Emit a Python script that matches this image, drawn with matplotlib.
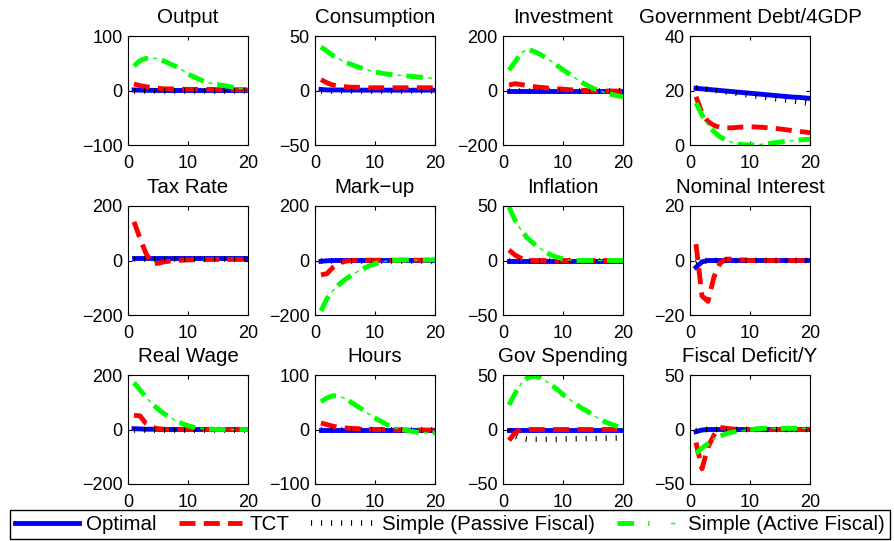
import numpy as np
import matplotlib
matplotlib.use('Agg')
import matplotlib.pyplot as plt
from matplotlib.lines import Line2D
from matplotlib.legend_handler import HandlerTuple

plt.rcParams['font.family'] = ['Liberation Sans', 'DejaVu Sans']
plt.rcParams['lines.scale_dashes'] = False

x = list(range(1, 21))
nan = float('nan')
zero = [0] * 20

titles = ['Output', 'Consumption', 'Investment', 'Government Debt/4GDP',
          'Tax Rate', 'Mark\u2212up', 'Inflation', 'Nominal Interest',
          'Real Wage', 'Hours', 'Gov Spending', 'Fiscal Deficit/Y']
ylims = [(-100, 100), (-50, 50), (-200, 200), (0, 40),
         (-200, 200), (-200, 200), (-50, 50), (-20, 20),
         (-200, 200), (-100, 100), (-50, 50), (-50, 50)]
labels = ['Optimal', 'TCT', 'Simple (Passive Fiscal)', 'Simple (Active Fiscal)']

# Optimal policy
optimal = [
    [1, 0.5, 0.3, 0.2, 0.1, 0, 0, 0, 0, 0, 0, 0, 0, 0, 0, 0, 0, 0, 0, 0],
    [1, 0.5, 0.5, 0.5, 0.4, 0.4, 0.4, 0.3, 0.3, 0.3, 0.3, 0.3, 0.3, 0.3, 0.3, 0.3, 0.3, 0.3, 0.3, 0.3],
    zero,
    [20.8, 20.6, 20.4, 20.2, 20.0, 19.8, 19.6, 19.4, 19.2, 19.0, 18.8, 18.6, 18.4, 18.2, 18.0, 17.8, 17.6, 17.5, 17.3, 17.1],
    [8] * 20,
    [-3, -1, 0, 0, 0, 0, 0, 0, 0, 0, 0, 0, 0, 0, 0, 0, 0, 0, 0, 0],
    zero,
    [-2.5, -0.5, 0, 0, 0, 0, 0, 0, 0, 0, 0, 0, 0, 0, 0, 0, 0, 0, 0, 0],
    [3, 2, 1, 1, 0.5, 0, 0, 0, 0, 0, 0, 0, 0, 0, 0, 0, 0, 0, 0, 0],
    zero,
    zero,
    [-2, -0.5, 0, 0, 0, 0, 0, 0, 0, 0, 0, 0, 0, 0, 0, 0, 0, 0, 0, 0],
]

# TCT
tct = [
    [12, 9, 7, 5, 4, 3, 3, 2.5, 2.5, 2, 2, 2, 2, 2, 1.5, 1.5, 1.5, 1.5, 1.5, 1.5],
    [10, 7, 5, 4, 3.5, 3, 3, 3, 2.5, 2.5, 2.5, 2.5, 2.5, 2.5, 2.5, 2.5, 2.5, 2.5, 2.5, 2.5],
    [20, 25, 22, 18, 15, 12, 10, 8, 6, 5, 3, 2, 1, 0, -1, -1, -2, -2, -2, -2],
    [17.7, 11.7, 8.6, 7.2, 6.4, 6.3, 6.3, 6.5, 6.6, 6.7, 6.6, 6.5, 6.3, 6.1, 5.9, 5.6, 5.3, 5.0, 4.8, 4.5],
    [142, 81, 26, -12, -10, -5, -2, 0, 1, 2, 3, 3, 4, 4, 4, 4, 4, 4, 4, 4],
    [-53, -48, -25, -10, -3, 0, 1, 1, 1, 1, 1, 1, 1, 1, 1, 1, 1, 1, 1, 1],
    [9.6, 5, 2, 0.5, 0, 0, 0, 0, 0, 0, 0, 0, 0, 0, 0, 0, 0, 0, 0, 0],
    [6, -13, -15, -6, -1, 0.5, 0.5, 0.3, 0.2, 0, 0, 0, 0, 0, 0, 0, 0, 0, 0, 0],
    [52, 50, 22, 8, 3, 1, 0, 0, 0, 0, 0, 0, 0, 0, 0, 0, 0, 0, 0, 0],
    [12, 9, 6, 4, 3, 2, 1.5, 1, 0.5, 0, 0, 0, -0.5, -0.5, -1, -1, -1, -1, -1, -1],
    [-10, -3, 0, 0, 0, 0, 0, 0, 0, 0, 0, 0, 0, 0, 0, 0, 0, 0, 0, 0],
    [-12, -36, -16, -5, 2, 1, 0.5, 0, 0, 0, 0, 0, 0, 0, 0, 0, 0, 0, 0, 0],
]

# Simple rule, passive fiscal
passive = [
    zero, zero, zero,
    [21, 20.7, 20.4, 20.1, 19.8, 19.5, 19.2, 18.9, 18.6, 18.3, 18.0, 17.7, 17.4, 17.1, 16.8, 16.5, 16.2, 15.9, 15.6, 15.3],
    [5] * 20,
    zero, zero,
    [-1, 0, 0, 0, 0, 0, 0, 0, 0, 0, 0, 0, 0, 0, 0, 0, 0, 0, 0, 0],
    zero, zero,
    [0, -6, -8, -9, -9, -9, -9, -9, -9, -8.8, -8.6, -8.5, -8.4, -8.3, -8.2, -8.1, -8, -7.9, -7.8, -7.7],
    [-1, 0, 0, 0, 0, 0, 0, 0, 0, 0, 0, 0, 0, 0, 0, 0, 0, 0, 0, 0],
]

# Simple rule, active fiscal
active = [
    [45, 55, 59, 60, 58, 54, 49, 44, 38, 30, 25, 20, 15, 13, 11, 9, 7, 5, 3, 2],
    [40, 36, 32, 29, 26, 24, 22, 20, 18.5, 17, 16, 15, 14.5, 14, 13.5, 13, 12.5, 12, 11.5, 11],
    [75, 105, 137, 150, 145, 135, 122, 108, 92, 76, 61, 46, 32, 19, 8, 0, -8, -14, -19, -23],
    [15.4, 11, 7.3, 4.9, 3, 1.8, 1, 0.4, 0.1, 0, 0.1, 0.3, 0.5, 0.8, 1.1, 1.4, 1.6, 1.8, 2.0, 2.1],
    [nan] * 20,
    [-185, -140, -110, -88, -70, -55, -42, -30, -20, -12, -6, -2, 0, 1, 2, 2, 2, 2, 2, 3],
    [49, 37, 28, 21, 16, 12, 8, 5, 3, 1.5, 0.5, 0, 0, 0, 0, 0, 0, 0, 0, 0],
    [nan] * 20,
    [172, 145, 118, 95, 75, 58, 44, 32, 22, 14, 8, 4, 2, 1, 0, 0, 0, 0, 0, 0],
    [51, 58, 62, 61, 57, 50, 43, 36, 28, 21, 15, 9, 4, 1, -1, -3, -5, -6, -6, -6],
    [22.5, 33, 42, 47, 49, 48, 45, 41, 37, 32, 28, 24, 20, 17, 13, 10, 7, 5, 3, 1],
    [-22, -17, -13, -8, -6, -4, -2.5, -1.5, -1, 0, 0.5, 1, 1, 1, 1, 1, 1, 1, 1, 1],
]

W, H = 895, 541
fig = plt.figure(figsize=(W / 100, H / 100), dpi=100)
col_left = [128, 315, 503, 690]
row_top = [36, 206, 375]
aw, ah = 120, 109

green = (0, 1, 0)
st_opt = dict(color='b', lw=3.5)
st_tct = dict(color='r', lw=3.5, linestyle=(0, (11.5, 6)))
st_pas = dict(color='k', lw=4, linestyle=(0, (0.8, 6.4)))
st_act = dict(color=green, lw=3.5, linestyle=(0, (12, 10)))
st_dot = dict(color=green, lw=1, linestyle=(6.5, (3, 19)))

for i, title in enumerate(titles):
    r, c = divmod(i, 4)
    ax = fig.add_axes([col_left[c] / W, 1 - (row_top[r] + ah) / H, aw / W, ah / H])
    ax.plot(x, optimal[i], **st_opt)
    ax.plot(x, tct[i], **st_tct)
    ax.plot(x, passive[i], **st_pas)
    ax.plot(x, active[i], **st_act)
    ax.plot(x, active[i], **st_dot)
    lo, hi = ylims[i]
    ax.set_xlim(0, 20)
    ax.set_ylim(lo, hi)
    ax.set_xticks([0, 10, 20])
    ax.set_yticks([lo, (lo + hi) / 2, hi])
    ax.set_yticklabels([f'{v:g}'.replace('-', '\u2212') for v in (lo, (lo + hi) / 2, hi)])
    ax.tick_params(direction='in', top=True, right=True, length=3, labelsize=13)
    ax.tick_params(axis='x', pad=7)
    ax.tick_params(axis='y', pad=4)
    ax.set_title(title, fontsize=14.8, pad=9.5)

handles = [Line2D([], [], **st_opt), Line2D([], [], **st_tct), Line2D([], [], **st_pas),
           (Line2D([], [], **st_act), Line2D([], [], **st_dot))]
leg = fig.legend(handles, labels, loc='lower left', ncol=4, mode='expand',
                 bbox_to_anchor=(10 / W, 2 / H, 880 / W, 33 / H), borderaxespad=0,
                 borderpad=0.25, fancybox=False, edgecolor='k', framealpha=1, fontsize=14.8,
                 handlelength=3.1, handletextpad=0.35,
                 handler_map={tuple: HandlerTuple(ndivide=None, pad=0)})
leg.get_frame().set_linewidth(1)

fig.savefig('out.png', dpi=100)
